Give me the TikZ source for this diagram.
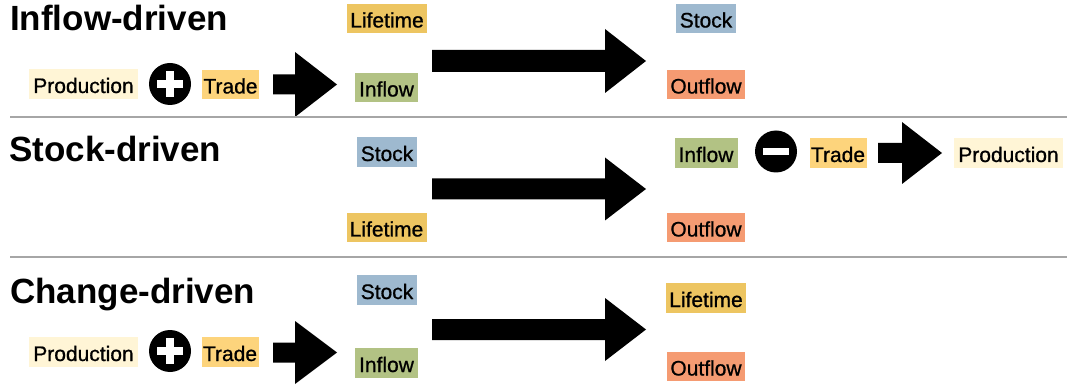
\documentclass[tikz,border=0pt]{standalone}
\usepackage{fontspec}
\setmainfont{Liberation Sans}
\newfontfamily\lblfont{Liberation Sans}[RawFeature={embolden=0.8}]
\definecolor{clife}{HTML}{EDC561}
\definecolor{cstock}{HTML}{9EB9CF}
\definecolor{cin}{HTML}{B2C284}
\definecolor{cout}{HTML}{F59B72}
\definecolor{ctrade}{HTML}{FDD47C}
\definecolor{cprod}{HTML}{FFF5D6}
\definecolor{csep}{HTML}{A6A6A6}
\newcommand\blockarrow[6]{\fill[black] (#1,#4-#5) -- (#2,#4-#5) -- (#2,#4-#6) -- (#3,#4) -- (#2,#4+#6) -- (#2,#4+#5) -- (#1,#4+#5) -- cycle;}
\begin{document}
\begin{tikzpicture}[x=1pt,y=-1pt,
  lbl/.style={inner xsep=0pt, inner ysep=0pt, minimum height=29.5pt, text height=20pt, text depth=2pt, font=\fontsize{21}{21}\lblfont},
  life/.style={lbl, fill=clife, minimum width=80pt},
  prod/.style={lbl, fill=cprod, minimum width=109pt},
  trade/.style={lbl, fill=ctrade, minimum width=57pt},
  stock/.style={lbl, fill=cstock, minimum width=60pt},
  infl/.style={lbl, fill=cin, minimum width=63pt},
  outfl/.style={lbl, fill=cout, minimum width=78pt},
  ttl/.style={anchor=base west, inner sep=0pt, font=\fontsize{35}{35}\selectfont\bfseries},
  sepline/.style={draw=csep, line width=1.5pt},
  opc/.style={circle, fill=black, minimum size=42pt, inner sep=0pt}]
\useasboundingbox (0,0) rectangle (1067,387);

% ---------- Inflow-driven ----------
\node[ttl] (t1) at (10,31) {Inflow-driven};
\node[life]  (life1)  at (387,18.5) {Lifetime};
\node[prod]  (prod1)  at (83.5,84) {Production};
\node[opc] (plus1) at (170,84) {};
\fill[white] (plus1.center) ++(-13,-4) rectangle ++(26,8);
\fill[white] (plus1.center) ++(-4,-13) rectangle ++(8,26);
\node[trade] (trade1) at (230.5,84.5) {Trade};
\blockarrow{273}{295}{337}{84.5}{10}{32.5}
\node[infl]  (in1)    at (386.5,87.5) {Inflow};
\blockarrow{432}{605}{646}{61}{11}{32}
\node[stock] (stock1) at (706,18.5) {Stock};
\node[outfl] (out1)   at (706,84.5) {Outflow};
\coordinate (s1a) at (10,117);
\coordinate (s1b) at (1067,117);
\draw[sepline] (s1a) -- (s1b);

% ---------- Stock-driven ----------
\node[ttl] (t2) at (9,162) {Stock-driven};
\node[stock] (stock2) at (387,152) {Stock};
\node[life]  (life2)  at (386.5,227.5) {Lifetime};
\blockarrow{432}{605}{646}{189}{10.5}{31.5}
\node[infl]  (in2)    at (706,153) {Inflow};
\node[outfl] (out2)   at (706,227.5) {Outflow};
\node[opc] (minus2) at (776,151.5) {};
\fill[white] (minus2.center) ++(-13,-3.5) rectangle ++(26,7);
\node[trade] (trade2) at (838,153) {Trade};
\blockarrow{878}{902}{942}{153}{10}{31}
\node[prod]  (prod2)  at (1008.5,153) {Production};
\coordinate (s2a) at (10,257);
\coordinate (s2b) at (1067,257);
\draw[sepline] (s2a) -- (s2b);

% ---------- Change-driven ----------
\node[ttl] (t3) at (10,303) {Change-driven};
\node[stock] (stock3) at (387,290) {Stock};
\node[prod]  (prod3)  at (83.5,352) {Production};
\node[opc] (plus3) at (170,351) {};
\fill[white] (plus3.center) ++(-13,-4) rectangle ++(26,8);
\fill[white] (plus3.center) ++(-4,-13) rectangle ++(8,26);
\node[trade] (trade3) at (230,352) {Trade};
\blockarrow{273}{295}{337}{352.5}{10}{31.5}
\node[infl]  (in3)    at (386.5,363) {Inflow};
\blockarrow{432}{605}{646}{329.5}{10.5}{31.5}
\node[life]  (life3)  at (706,298) {Lifetime};
\node[outfl] (out3)   at (706,366.5) {Outflow};
\end{tikzpicture}
\end{document}
